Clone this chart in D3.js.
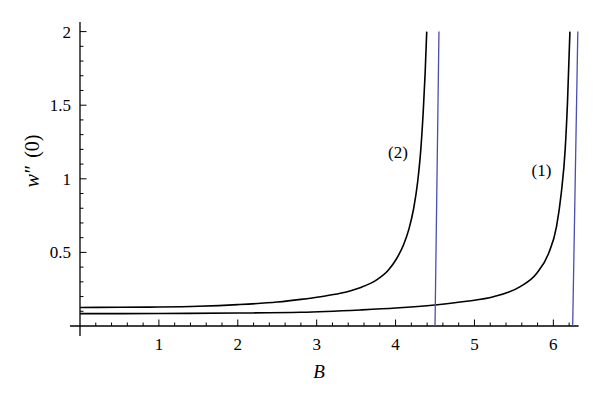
<!DOCTYPE html>
<html><head><meta charset="utf-8">
<script src="https://cdn.jsdelivr.net/npm/d3@7"></script>
<style>body{margin:0;background:#fff}svg{display:block}</style>
</head><body>
<svg id="chart" width="600" height="402"></svg>
<script>
// ---- data ----
const curve1B = [0, 1, 2, 2.8, 3.55, 4.0, 4.5, 4.9, 5.24, 5.58, 5.79, 5.94, 6.04, 6.10, 6.15, 6.18, 6.21];
const curve1Y = [0.084, 0.085, 0.088, 0.093, 0.109, 0.122, 0.143, 0.168, 0.199, 0.267, 0.358, 0.494, 0.675, 0.901, 1.2, 1.53, 2.0];
const curve2B = [0, 0.5, 1, 1.5, 2, 2.5, 2.8, 3.05, 3.3, 3.55, 3.76, 3.91, 4.01, 4.10, 4.17, 4.23, 4.28, 4.32, 4.35, 4.375, 4.395];
const curve2Y = [0.126, 0.127, 0.129, 0.134, 0.145, 0.163, 0.181, 0.199, 0.222, 0.260, 0.313, 0.380, 0.455, 0.550, 0.660, 0.800, 0.98, 1.20, 1.45, 1.72, 2.0];
const blue1B = [4.50, 4.55];
const blue2B = [6.245, 6.31];
const blueY = [0, 2];
const xTicks = [1, 2, 3, 4, 5, 6];
const yTicks = [0.5, 1, 1.5, 2];
const curveLabels = ["(2)", "(1)"];
const curveLabelPos = [[4.03, 1.14], [5.85, 1.02]];

// ---- scales ----
const svg = d3.select("#chart");
const x = d3.scaleLinear().domain([0, 6.32]).range([80, 578.6]);
const y = d3.scaleLinear().domain([0, 2]).range([326, 31.6]);
const serif = "Liberation Serif, DejaVu Serif, serif";

// ---- axes lines ----
svg.append("line").attr("x1", x(0) - 10).attr("x2", x(6.32)).attr("y1", y(0)).attr("y2", y(0))
  .attr("stroke", "#000").attr("stroke-width", 1.3);
svg.append("line").attr("x1", x(0)).attr("x2", x(0)).attr("y1", y(0) + 10).attr("y2", y(2.065))
  .attr("stroke", "#000").attr("stroke-width", 1.3);

// x ticks
const xMinor = d3.range(1, 32).map(i => i * 0.2).filter(v => Math.abs(v - Math.round(v)) > 1e-6);
svg.selectAll(".xminor").data(xMinor).enter().append("line")
  .attr("x1", d => x(d)).attr("x2", d => x(d)).attr("y1", y(0)).attr("y2", y(0) - 3.5)
  .attr("stroke", "#000").attr("stroke-width", 1);
svg.selectAll(".xmajor").data(xTicks).enter().append("line")
  .attr("x1", d => x(d)).attr("x2", d => x(d)).attr("y1", y(0)).attr("y2", y(0) - 6.5)
  .attr("stroke", "#000").attr("stroke-width", 1);
svg.selectAll(".xlab").data(xTicks).enter().append("text")
  .attr("x", d => x(d)).attr("y", 349.5).attr("text-anchor", "middle")
  .style("font-family", serif).attr("font-size", 17).text(d => d);

// y ticks
const yMinor = d3.range(1, 21).map(i => i * 0.1).filter(v => Math.abs(v * 2 - Math.round(v * 2)) > 1e-6);
svg.selectAll(".yminor").data(yMinor).enter().append("line")
  .attr("x1", x(0)).attr("x2", x(0) + 3.5).attr("y1", d => y(d)).attr("y2", d => y(d))
  .attr("stroke", "#000").attr("stroke-width", 1);
svg.selectAll(".ymajor").data(yTicks).enter().append("line")
  .attr("x1", x(0)).attr("x2", x(0) + 6.5).attr("y1", d => y(d)).attr("y2", d => y(d))
  .attr("stroke", "#000").attr("stroke-width", 1);
svg.selectAll(".ylab").data(yTicks).enter().append("text")
  .attr("x", 71).attr("y", d => y(d) + 6).attr("text-anchor", "end")
  .style("font-family", serif).attr("font-size", 17).text(d => d);

// ---- curves ----
const line = d3.line().x(d => x(d[0])).y(d => y(d[1])).curve(d3.curveMonotoneX);
svg.append("path").datum(curve1B.map((b, i) => [b, curve1Y[i]]))
  .attr("d", line).attr("fill", "none").attr("stroke", "#000").attr("stroke-width", 1.6);
svg.append("path").datum(curve2B.map((b, i) => [b, curve2Y[i]]))
  .attr("d", line).attr("fill", "none").attr("stroke", "#000").attr("stroke-width", 1.6);

const bl = d3.line().x(d => x(d[0])).y(d => y(d[1]));
[blue1B, blue2B].forEach(bb => {
  svg.append("path").datum(bb.map((b, i) => [b, blueY[i]]))
    .attr("d", bl).attr("fill", "none").attr("stroke", "#4a4ead").attr("stroke-width", 1.3);
});

// curve labels
svg.selectAll(".clab").data(curveLabels).enter().append("text")
  .attr("x", (d, i) => x(curveLabelPos[i][0])).attr("y", (d, i) => y(curveLabelPos[i][1]))
  .attr("text-anchor", "middle").style("font-family", serif).attr("font-size", 17).text(d => d);

// axis titles
svg.append("text").attr("x", 319).attr("y", 378).attr("text-anchor", "middle")
  .style("font-family", serif).attr("font-size", 19).attr("font-style", "italic").text("B");
const yt = svg.append("text").attr("transform", "translate(39,161) rotate(-90)")
  .attr("text-anchor", "middle").style("font-family", serif).attr("font-size", 20);
yt.append("tspan").attr("font-style", "italic").text("w");
yt.append("tspan").attr("dx", 1).text("\u2033");
yt.append("tspan").attr("dx", 7).text("(0)");
</script>
</body></html>
